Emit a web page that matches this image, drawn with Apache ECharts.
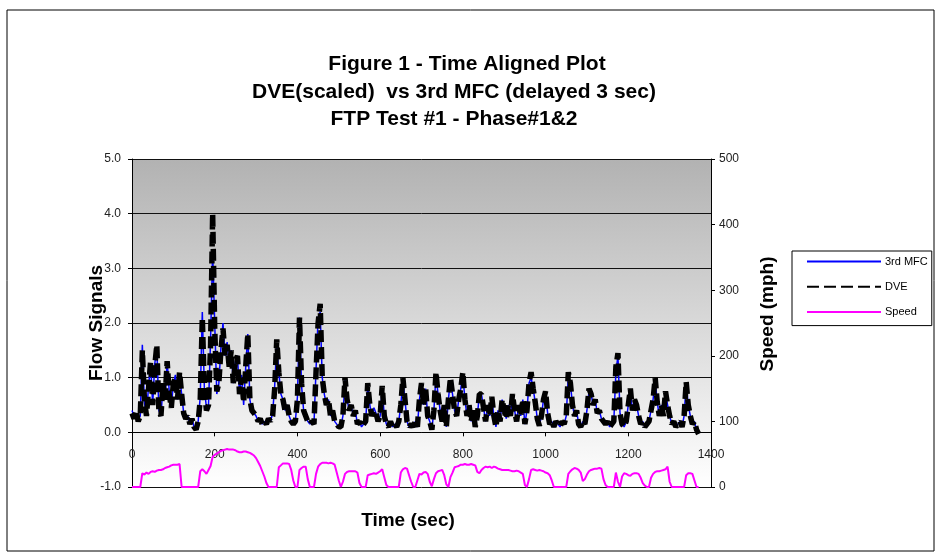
<!DOCTYPE html>
<html>
<head>
<meta charset="utf-8">
<script src="https://cdn.jsdelivr.net/npm/echarts@6/dist/echarts.min.js"></script>
<style>
html,body{margin:0;padding:0;background:#fff;}
#chart{width:941px;height:559px;}
</style>
</head>
<body>
<div id="chart"></div>
<script>
// sample interval of the recorded signals (seconds)
const timeStep = 5;

// DVE (scaled) flow signal, t = 0..1370 s every 5 s
const dveValues = [
  0.35,0.25,0.4,0.2,0.3,1.5,0.6,0.3,0.8,1.3,0.5,1.2,1.6,0.4,0.3,0.9,0.6,1.3,0.7,0.45,
  0.9,1.0,0.6,1.1,0.7,0.35,0.25,0.3,0.15,0.25,0.1,0.05,0.2,0.6,2.1,0.8,0.4,0.5,1.6,4.0,
  1.9,0.75,0.9,1.5,1.9,1.4,1.6,1.2,1.5,0.9,1.3,1.4,0.7,1.0,0.55,1.2,1.8,0.6,0.4,0.35,
  0.3,0.2,0.25,0.15,0.2,0.15,0.25,0.2,0.3,0.8,1.7,1.1,0.7,0.6,0.4,0.5,0.3,0.2,0.15,0.2,
  0.6,2.1,0.9,0.4,0.3,0.2,0.15,0.2,0.15,1.1,2.0,2.35,1.0,0.7,0.5,0.6,0.3,0.4,0.2,0.15,
  0.1,0.1,0.3,1.0,0.6,0.4,0.5,0.3,0.4,0.15,0.2,0.1,0.15,0.2,0.9,0.5,0.3,0.4,0.35,0.2,
  0.3,0.85,0.3,0.15,0.1,0.2,0.1,0.15,0.1,0.2,0.5,1.0,0.6,0.2,0.1,0.15,0.1,0.2,0.1,0.6,
  0.9,0.5,0.8,0.3,0.2,0.05,0.4,1.1,0.7,0.4,0.2,0.5,0.1,0.6,1.0,0.7,0.4,0.3,0.6,0.8,
  1.1,0.6,0.3,0.5,0.2,0.4,0.1,0.3,0.7,0.7,0.45,0.2,0.5,0.3,0.65,0.3,0.1,0.4,0.2,0.6,
  0.4,0.25,0.5,0.3,0.7,0.4,0.2,0.5,0.3,0.6,0.15,0.4,0.9,1.1,0.8,0.55,0.25,0.12,0.3,0.6,
  0.75,0.35,0.15,0.2,0.1,0.2,0.15,0.1,0.2,0.15,0.3,1.1,0.9,0.5,0.3,0.4,0.15,0.1,0.2,0.15,
  0.4,0.8,0.7,0.5,0.6,0.35,0.4,0.25,0.2,0.15,0.2,0.1,0.15,0.2,1.2,1.45,0.35,0.15,0.1,0.2,
  0.5,0.8,0.4,0.6,0.5,0.3,0.15,0.2,0.1,0.15,0.2,0.4,0.6,1.0,0.55,0.3,0.5,0.3,0.75,0.5,
  0.3,0.15,0.2,0.1,0.15,0.2,0.1,0.3,0.92,0.5,0.3,0.15,0.2,0.05,-0.03
];

// 3rd MFC flow signal (delayed 3 sec), t = 0..1370 s every 5 s
const mfcValues = [
  0.4,0.3,0.35,0.25,0.3,1.6,0.55,0.3,0.85,1.25,0.5,1.25,1.55,0.4,0.3,0.85,0.6,1.3,0.75,0.45,
  0.9,1.05,0.6,1.05,0.7,0.35,0.25,0.3,0.15,0.25,0.1,0.05,0.2,0.65,2.2,0.8,0.45,0.5,1.7,3.3,
  2.0,0.7,0.9,1.55,2.0,1.4,1.65,1.2,1.5,0.9,1.3,1.4,0.7,1.05,0.5,1.2,1.8,0.6,0.4,0.35,
  0.3,0.2,0.25,0.15,0.2,0.15,0.25,0.2,0.35,0.85,1.6,1.1,0.7,0.6,0.4,0.5,0.3,0.2,0.15,0.2,
  0.65,2.1,0.85,0.4,0.3,0.2,0.15,0.2,0.15,1.15,2.1,2.2,1.0,0.7,0.5,0.6,0.3,0.4,0.2,0.15,
  0.1,0.1,0.3,0.95,0.6,0.4,0.5,0.3,0.4,0.15,0.2,0.1,0.15,0.2,0.85,0.5,0.3,0.45,0.35,0.2,
  0.3,0.8,0.3,0.15,0.1,0.2,0.1,0.15,0.1,0.2,0.5,0.95,0.6,0.2,0.1,0.15,0.1,0.2,0.1,0.6,
  0.85,0.5,0.8,0.3,0.2,0.05,0.4,1.05,0.7,0.4,0.2,0.5,0.1,0.6,0.95,0.7,0.4,0.3,0.6,0.8,
  1.05,0.6,0.3,0.5,0.2,0.4,0.1,0.3,0.7,0.7,0.45,0.2,0.5,0.3,0.6,0.3,0.1,0.4,0.2,0.6,
  0.4,0.25,0.5,0.3,0.7,0.4,0.2,0.5,0.3,0.6,0.15,0.4,0.9,1.0,0.8,0.55,0.25,0.12,0.3,0.6,
  0.7,0.35,0.15,0.2,0.1,0.2,0.15,0.1,0.2,0.15,0.3,1.05,0.9,0.5,0.3,0.4,0.15,0.1,0.2,0.15,
  0.4,0.75,0.7,0.5,0.6,0.35,0.4,0.25,0.2,0.15,0.2,0.1,0.15,0.2,1.1,1.4,0.35,0.15,0.1,0.2,
  0.5,0.75,0.4,0.6,0.5,0.3,0.15,0.2,0.1,0.15,0.2,0.4,0.6,0.95,0.55,0.3,0.5,0.3,0.7,0.5,
  0.3,0.15,0.2,0.1,0.15,0.2,0.1,0.3,0.9,0.5,0.3,0.15,0.2,0.05,-0.02
];

// vehicle speed (mph), t = 0..1370 s every 5 s
const speedValues = [
  0,0,0,0,0,21,19,22,20,23,24,23,25,26,26,27,29,30,31,33,
  34,34,34,35,0,0,0,0,0,0,0,0,0,24,27,24,20,26,32,46,
  49,51,53,55,56,57,58,57,57,57,56,54,53,53,54,54,53,52,50,48,
  44,38,32,24,16,6,0,0,0,0,0,30,33,36,36,36,35,26,10,0,
  0,26,29,31,31,12,0,0,0,20,31,35,37,37,37,36,37,36,34,22,
  10,0,8,20,23,24,24,24,24,22,6,0,0,0,18,19,20,21,20,22,
  24,27,15,3,0,0,0,0,0,0,22,27,29,28,18,8,0,0,10,20,
  19,22,23,20,8,1,12,21,24,25,26,18,4,0,15,22,30,31,32,34,
  34,35,34,34,35,34,33,23,21,26,29,31,30,31,29,31,30,28,27,26,
  26,26,26,25,24,24,25,24,22,20,3,0,12,26,27,26,25,26,25,24,
  22,21,18,10,0,0,0,0,0,0,0,20,24,27,29,28,26,22,9,12,
  19,24,26,27,28,28,29,28,12,3,0,0,0,0,22,8,0,16,21,20,
  18,17,20,21,21,20,14,6,2,0,0,14,20,23,24,24,25,26,27,31,
  8,0,0,0,0,0,0,0,18,21,21,20,10,0,0
];

const seriesNames = ['3rd MFC', 'DVE', 'Speed'];
const titleLines = ['Figure 1 - Time Aligned Plot', 'DVE(scaled)  vs 3rd MFC (delayed 3 sec)', 'FTP Test #1 - Phase#1&2'];
const xAxisTitle = 'Time (sec)';
const leftAxisTitle = 'Flow Signals';
const rightAxisTitle = 'Speed (mph)';

function toPairs(vals) {
  return vals.map((v, i) => [i * timeStep, v]);
}

const FONT = "'Liberation Sans', Arial, sans-serif";
const chart = echarts.init(document.getElementById('chart'), null, { renderer: 'canvas' });

const titleStyle = { fontFamily: FONT, fontSize: 21, fontWeight: 'bold', color: '#000' };

chart.setOption({
  animation: false,
  backgroundColor: '#ffffff',
  title: [
    { text: titleLines[0], left: 462, top: 49, textAlign: 'center', textStyle: titleStyle },
    { text: titleLines[1], left: 449, top: 77, textAlign: 'center', textStyle: titleStyle },
    { text: titleLines[2], left: 449, top: 104, textAlign: 'center', textStyle: titleStyle }
  ],
  graphic: [
    { type: 'rect', z: -10, silent: true,
      shape: { x: 7, y: 10, width: 927, height: 541 },
      style: { fill: null, stroke: '#000', lineWidth: 1 } },
    { type: 'text', x: 97, y: 323, rotation: Math.PI / 2, silent: true,
      style: { text: leftAxisTitle, align: 'center', verticalAlign: 'middle',
        font: "bold 19px " + FONT, fill: '#000' } },
    { type: 'text', x: 768, y: 314, rotation: Math.PI / 2, silent: true,
      style: { text: rightAxisTitle, align: 'center', verticalAlign: 'middle',
        font: "bold 19px " + FONT, fill: '#000' } },
    { type: 'text', x: 408, y: 521, silent: true,
      style: { text: xAxisTitle, align: 'center', verticalAlign: 'middle',
        font: "bold 19px " + FONT, fill: '#000' } }
  ],
  legend: {
    data: seriesNames,
    orient: 'vertical',
    left: 792,
    top: 251,
    padding: [5, 4, 8, 14],
    itemWidth: 74,
    itemHeight: 14,
    itemGap: 14,
    borderColor: '#000',
    borderWidth: 1,
    backgroundColor: '#fff',
    itemStyle: { opacity: 0 },
    textStyle: { fontFamily: FONT, fontSize: 11, color: '#000', padding: [0, 0, 0, -1] }
  },
  grid: {
    left: 132, top: 159, width: 579, height: 328,
    show: true,
    borderWidth: 0,
    backgroundColor: {
      type: 'linear', x: 0, y: 0, x2: 0, y2: 1,
      colorStops: [{ offset: 0, color: '#b2b2b2' }, { offset: 1, color: '#ffffff' }]
    }
  },
  xAxis: {
    type: 'value', min: 0, max: 1400, interval: 200,
    axisLine: { show: true, onZero: true, onZeroAxisIndex: 0, lineStyle: { color: '#000', width: 1 } },
    axisTick: { show: true, inside: false, length: 4, lineStyle: { color: '#000' } },
    axisLabel: { margin: -38, fontFamily: FONT, fontSize: 12, color: '#222',
      formatter: v => String(v) },
    splitLine: { show: false }
  },
  yAxis: [
    {
      type: 'value', min: -1, max: 5, interval: 1, position: 'left',
      axisLine: { show: true, lineStyle: { color: '#000', width: 1 } },
      axisTick: { show: true, inside: false, length: 4, lineStyle: { color: '#000' } },
      axisLabel: { margin: 11, fontFamily: FONT, fontSize: 12, color: '#222',
        formatter: v => v.toFixed(1) },
      splitLine: { show: true, lineStyle: { color: '#111', width: 1 } }
    },
    {
      type: 'value', min: 0, max: 500, interval: 100, position: 'right',
      axisLine: { show: true, lineStyle: { color: '#000', width: 1 } },
      axisTick: { show: true, inside: false, length: 4, lineStyle: { color: '#000' } },
      axisLabel: { margin: 8, fontFamily: FONT, fontSize: 12, color: '#222' },
      splitLine: { show: false }
    }
  ],
  series: [
    { name: seriesNames[0], type: 'line', yAxisIndex: 0, data: toPairs(mfcValues),
      symbol: 'none', showSymbol: false, z: 3,
      lineStyle: { color: '#0000ff', width: 1.5 }, itemStyle: { color: '#0000ff' } },
    { name: seriesNames[1], type: 'line', yAxisIndex: 0, data: toPairs(dveValues),
      symbol: 'none', showSymbol: false, z: 4,
      lineStyle: { color: '#000000', width: 5.5, type: [12, 5] }, itemStyle: { color: '#000000' } },
    { name: seriesNames[2], type: 'line', yAxisIndex: 1, data: toPairs(speedValues),
      symbol: 'none', showSymbol: false, z: 3,
      lineStyle: { color: '#ff00ff', width: 2 }, itemStyle: { color: '#ff00ff' } }
  ]
});
</script>
</body>
</html>
